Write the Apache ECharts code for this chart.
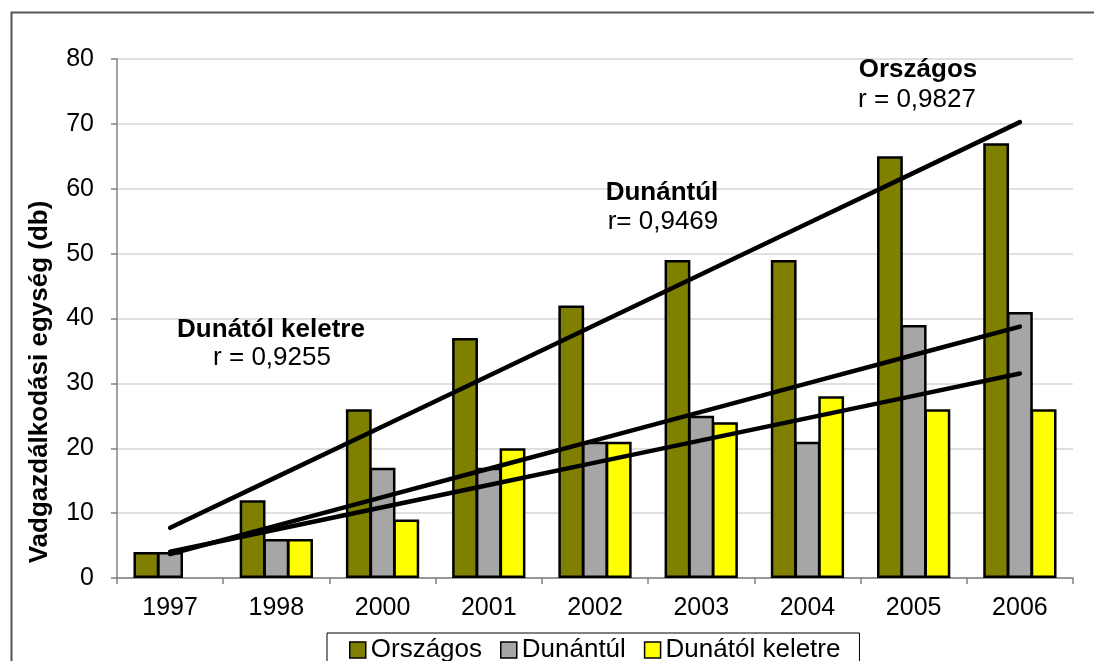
<!DOCTYPE html>
<html>
<head>
<meta charset="utf-8">
<script src="https://cdn.jsdelivr.net/npm/echarts@6/dist/echarts.min.js"></script>
<style>
  html, body { margin: 0; padding: 0; background: #fff; }
  #chart { width: 1094px; height: 661px; }
</style>
</head>
<body>
<div id="chart"></div>
<script>
// Years on the category axis
const years = ['1997', '1998', '2000', '2001', '2002', '2003', '2004', '2005', '2006'];

// Number of game management units per region (db)
const orszagos = [4, 12, 26, 37, 42, 49, 49, 65, 67];
const dunantul = [4, 6, 17, 17, 21, 25, 21, 39, 41];
const dunatolKeletre = [null, 6, 9, 20, 21, 24, 28, 26, 26];

// Correlation labels shown next to the trend lines
const seriesNames = ['Országos', 'Dunántúl', 'Dunától keletre'];
const rLabels = ['r = 0,9827', 'r= 0,9469', 'r = 0,9255'];
const yTitle = 'Vadgazdálkodási egység (db)';

const yTicks = { min: 0, max: 80, interval: 10 };

// Least-squares linear trend over the category positions; an empty year counts as zero
function linearTrend(values) {
  const ys = values.map(v => (v == null ? 0 : v));
  const n = ys.length;
  const xs = ys.map((_, i) => i + 1);
  const mx = xs.reduce((a, b) => a + b, 0) / n;
  const my = ys.reduce((a, b) => a + b, 0) / n;
  let sxy = 0, sxx = 0;
  for (let i = 0; i < n; i++) {
    sxy += (xs[i] - mx) * (ys[i] - my);
    sxx += (xs[i] - mx) * (xs[i] - mx);
  }
  const slope = sxy / sxx;
  const icpt = my - slope * mx;
  return xs.map(x => icpt + slope * x);
}

const FONT = '"Liberation Sans", Arial, sans-serif';
const chart = echarts.init(document.getElementById('chart'), null, { renderer: 'canvas' });

const barStyle = (color) => ({ color: color, borderColor: '#000', borderWidth: 2.5 });
const trendStyle = { color: '#000', width: 4.5, cap: 'round' };
const BAR_GAP = '-8%';
const CAT_GAP = '31%';

const note = (x, y, text, bold, size) => ({
  type: 'text', x: x, y: y, silent: true, z: 10,
  style: { text: text, font: (bold ? 'bold ' : '') + (size || 26) + 'px ' + FONT,
           fill: '#000', align: 'center', verticalAlign: 'middle' }
});

chart.setOption({
  animation: false,
  backgroundColor: '#fff',
  textStyle: { fontFamily: FONT },
  grid: { left: 117, right: 21, top: 59, bottom: 83, containLabel: false },
  legend: {
    data: seriesNames,
    left: 327,
    top: 633,
    padding: [4, 19, 4, 22],
    borderColor: '#000',
    borderWidth: 1,
    itemWidth: 16,
    itemHeight: 16,
    itemGap: 18,
    icon: 'rect',
    selectedMode: false,
    itemStyle: { borderColor: '#000', borderWidth: 1.5 },
    textStyle: { fontFamily: FONT, fontSize: 26, color: '#000' }
  },
  xAxis: {
    type: 'category',
    data: years,
    axisLine: { show: true, lineStyle: { color: '#808080', width: 1.5 } },
    axisTick: { show: true, length: 6, lineStyle: { color: '#808080', width: 1.5 } },
    axisLabel: { color: '#000', fontSize: 25, fontFamily: FONT, margin: 18 },
    splitLine: { show: false }
  },
  yAxis: {
    type: 'value',
    min: yTicks.min,
    max: yTicks.max,
    interval: yTicks.interval,
    axisLine: { show: true, lineStyle: { color: '#808080', width: 1.5 } },
    axisTick: { show: true, length: 6, lineStyle: { color: '#808080', width: 1.5 } },
    axisLabel: { color: '#000', fontSize: 25, fontFamily: FONT, margin: 23 },
    splitLine: { show: true, lineStyle: { color: '#d6d6d6', width: 1.5 } }
  },
  series: [
    { name: seriesNames[0], type: 'bar', data: orszagos, itemStyle: barStyle('#808000'),
      barGap: BAR_GAP, barCategoryGap: CAT_GAP },
    { name: seriesNames[1], type: 'bar', data: dunantul, itemStyle: barStyle('#a6a6a6'),
      barGap: BAR_GAP, barCategoryGap: CAT_GAP },
    { name: seriesNames[2], type: 'bar', data: dunatolKeletre, itemStyle: barStyle('#ffff00'),
      barGap: BAR_GAP, barCategoryGap: CAT_GAP },
    { name: 'trend-orszagos', type: 'line', data: linearTrend(orszagos), symbol: 'none',
      lineStyle: trendStyle, z: 5, silent: true },
    { name: 'trend-dunantul', type: 'line', data: linearTrend(dunantul), symbol: 'none',
      lineStyle: trendStyle, z: 5, silent: true },
    { name: 'trend-keletre', type: 'line', data: linearTrend(dunatolKeletre), symbol: 'none',
      lineStyle: trendStyle, z: 5, silent: true }
  ],
  graphic: [
    // outer chart frame, open past the right and bottom edges
    { type: 'rect', left: 9, top: 10, shape: { width: 1200, height: 700 },
      style: { fill: null, stroke: '#555', lineWidth: 2 }, silent: true, z: -1 },
    // vertical axis title
    { type: 'text', x: 40, y: 382, rotation: Math.PI / 2, silent: true,
      style: { text: yTitle, font: 'bold 26px ' + FONT, fill: '#000',
               align: 'center', verticalAlign: 'middle' } },
    // trend annotations
    note(918, 70, seriesNames[0], true),
    note(917, 100, rLabels[0], false),
    note(662, 193, seriesNames[1], true),
    note(663, 222, rLabels[1], false),
    note(271, 330, seriesNames[2], true),
    note(272, 358, rLabels[2], false)
  ]
});
</script>
</body>
</html>
